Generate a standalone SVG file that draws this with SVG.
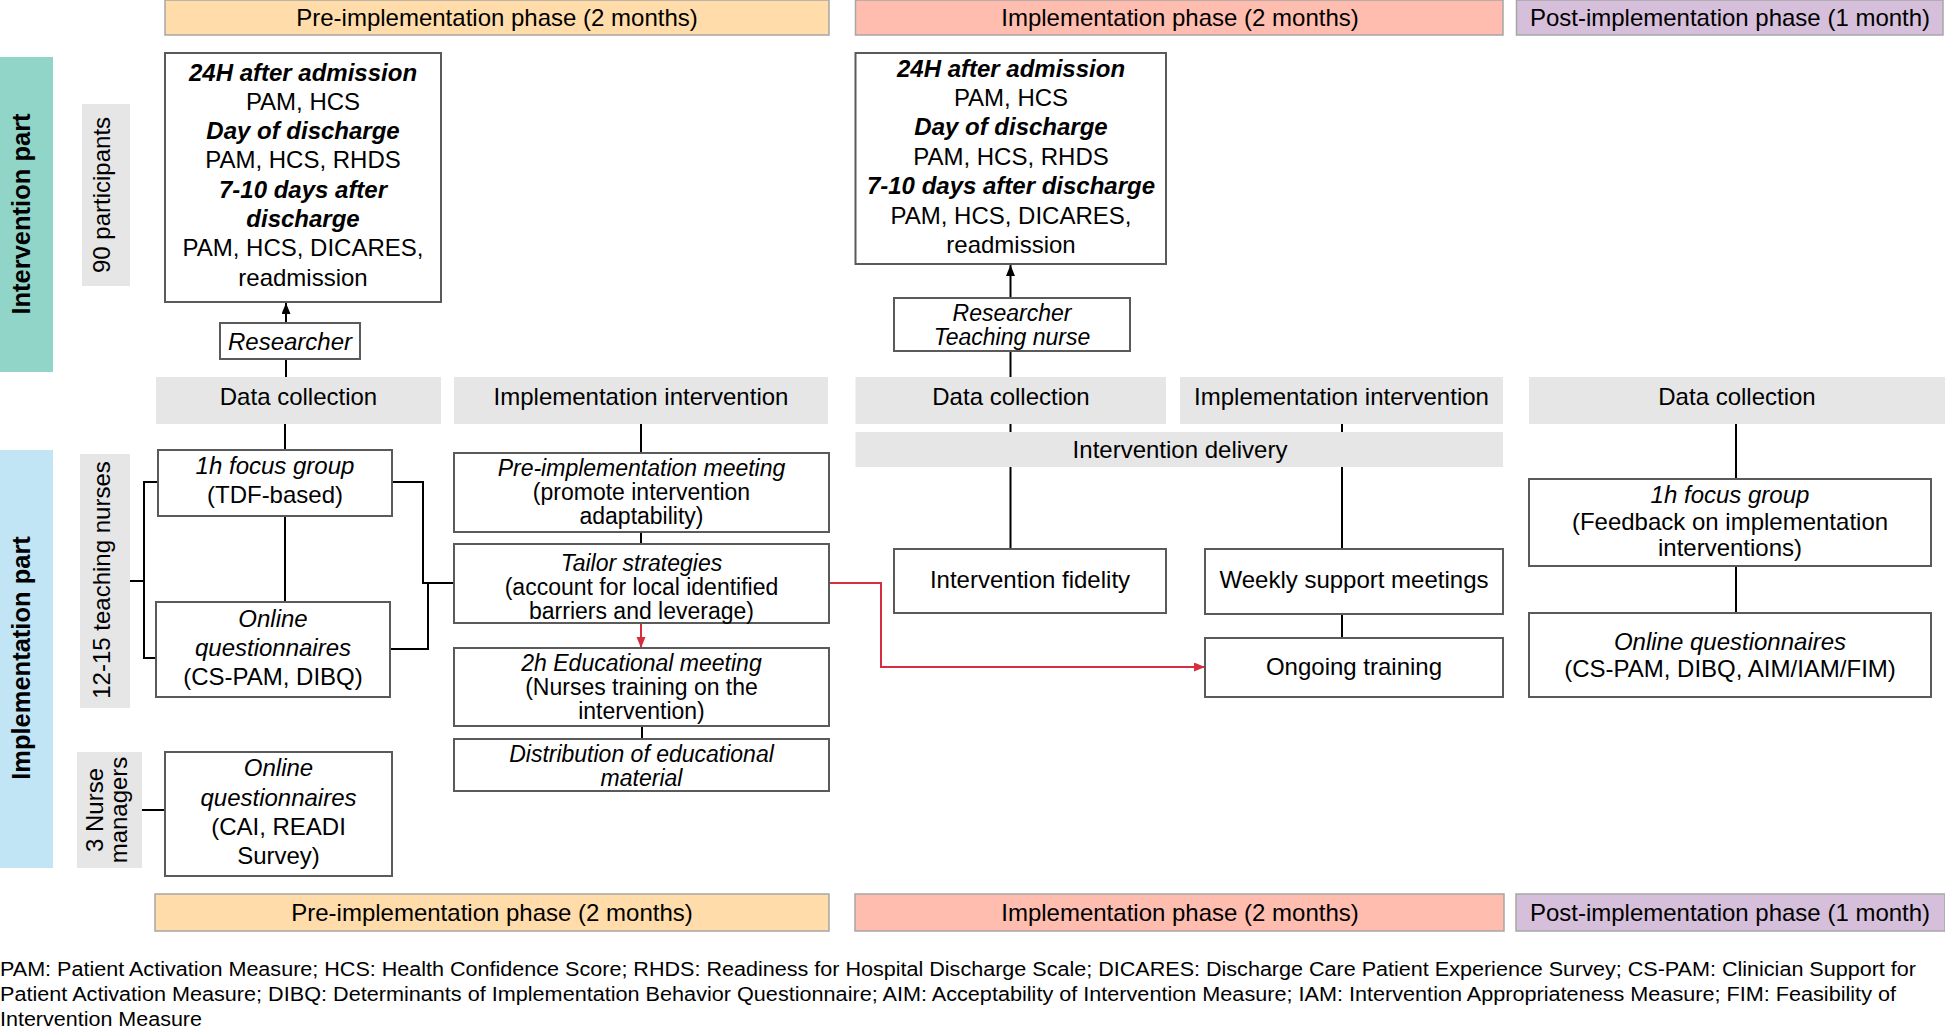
<svg xmlns="http://www.w3.org/2000/svg" width="1945" height="1029" viewBox="0 0 1945 1029">
<defs>
<style>
text{font-family:"Liberation Sans",Arial,sans-serif;font-size:24px;fill:#000;text-anchor:middle}
.it{font-style:italic}
.bi{font-style:italic;font-weight:bold}
.side{font-weight:bold;font-size:25.5px}
.t3{font-size:23px}
.box{fill:#fff;stroke:#5a5a5a;stroke-width:2}
.gray{fill:#e6e6e6}
.hdr{stroke:#a6a6a6;stroke-width:1.5}
.pre{fill:#ffdcaa}
.imp{fill:#ffbdb0}
.post{fill:#d6bfda}
.ln{fill:none;stroke:#000;stroke-width:2}
.red{fill:none;stroke:#d62e3e;stroke-width:2}
.note{font-size:20px;text-anchor:start}
</style>
<marker id="ab" markerUnits="userSpaceOnUse" markerWidth="12" markerHeight="10" refX="11" refY="4.5" orient="auto"><path d="M0,0 L11,4.5 L0,9 z" fill="#000"/></marker>
<marker id="ar" markerUnits="userSpaceOnUse" markerWidth="12" markerHeight="10" refX="11" refY="4.5" orient="auto"><path d="M0,0 L11,4.5 L0,9 z" fill="#d62e3e"/></marker>
</defs>
<rect width="1945" height="1029" fill="#fff"/>

<g id="phase-headers-top">
<rect class="hdr pre" x="165" y="0" width="664" height="35"/>
<text x="497" y="25.5">Pre-implementation phase (2 months)</text>
<rect class="hdr imp" x="855.5" y="0" width="647.5" height="35"/>
<text x="1180" y="25.5">Implementation phase (2 months)</text>
<rect class="hdr post" x="1516.5" y="0" width="426.5" height="35"/>
<text x="1730" y="25.5">Post-implementation phase (1 month)</text>
</g>

<g id="side-labels">
<rect x="0" y="57" width="53" height="315" fill="#90d5c8"/>
<text class="side" transform="translate(21,214) rotate(-90)" x="0" y="9">Intervention part</text>
<rect x="0" y="450" width="53" height="418" fill="#c2e5f5"/>
<text class="side" transform="translate(21,658) rotate(-90)" x="0" y="9">Implementation part</text>
<rect class="gray" x="82" y="104" width="48" height="182"/>
<text transform="translate(101,195) rotate(-90)" x="0" y="8.5">90 participants</text>
<rect class="gray" x="80" y="454" width="50" height="254"/>
<text transform="translate(101,580) rotate(-90)" x="0" y="8.5">12-15 teaching nurses</text>
<rect class="gray" x="77" y="752" width="65" height="116"/>
<text transform="translate(94,810) rotate(-90)" x="0" y="8.5">3 Nurse</text>
<text transform="translate(118,810) rotate(-90)" x="0" y="8.5">managers</text>
</g>

<g id="section-labels">
<rect class="gray" x="156" y="377" width="285" height="47"/>
<text x="298.5" y="404.5">Data collection</text>
<rect class="gray" x="454" y="377" width="374" height="47"/>
<text x="641" y="404.5">Implementation intervention</text>
<rect class="gray" x="855.5" y="377" width="310.5" height="47"/>
<text x="1011" y="404.5">Data collection</text>
<rect class="gray" x="1180" y="377" width="323" height="47"/>
<text x="1341.5" y="404.5">Implementation intervention</text>
<rect class="gray" x="1529" y="377" width="416" height="47"/>
<text x="1737" y="404.5">Data collection</text>
<rect class="gray" x="855.5" y="432" width="647.5" height="35"/>
<text x="1180" y="457.5">Intervention delivery</text>
</g>

<g id="connectors">
<path class="ln" d="M286,377 V359"/>
<path class="ln" d="M286,323 V303" marker-end="url(#ab)"/>
<path class="ln" d="M285,424 V450 M285,516 V602"/>
<path class="ln" d="M130,581 H144 M158,482 H144 V658 H156"/>
<path class="ln" d="M392,482 H423 V583 H454 M390,649 H428 V583"/>
<path class="ln" d="M142,810 H165"/>
<path class="ln" d="M641,424 V453 M641,532 V544 M642,726 V739"/>
<path class="red" d="M641,623 V648" marker-end="url(#ar)"/>
<path class="red" d="M829,583 H881 V667 H1205" marker-end="url(#ar)"/>
<path class="ln" d="M1010.5,377 V351"/>
<path class="ln" d="M1010.5,298 V265" marker-end="url(#ab)"/>
<path class="ln" d="M1010.5,424 V432 M1010.5,467 V549"/>
<path class="ln" d="M1342,424 V432 M1342,467 V549 M1342,614 V638"/>
<path class="ln" d="M1736,424 V479 M1736,566 V613"/>
</g>

<g id="pre-data-box">
<rect class="box" x="165" y="53" width="276" height="249"/>
<text class="bi" x="303" y="80.5">24H after admission</text>
<text x="303" y="109.8">PAM, HCS</text>
<text class="bi" x="303" y="139.1">Day of discharge</text>
<text x="303" y="168.4">PAM, HCS, RHDS</text>
<text class="bi" x="303" y="197.7">7-10 days after</text>
<text class="bi" x="303" y="227">discharge</text>
<text x="303" y="256.3">PAM, HCS, DICARES,</text>
<text x="303" y="285.6">readmission</text>
</g>

<g id="pre-researcher">
<rect class="box" x="220" y="323" width="140" height="36"/>
<text class="it" x="290" y="349.5">Researcher</text>
</g>

<g id="pre-focus-group">
<rect class="box" x="158" y="450" width="234" height="66"/>
<text class="it" x="275" y="473.5">1h focus group</text>
<text x="275" y="502.5">(TDF-based)</text>
</g>

<g id="pre-online-nurses">
<rect class="box" x="156" y="602" width="234" height="95"/>
<text class="it" x="273" y="626.5">Online</text>
<text class="it" x="273" y="655.5">questionnaires</text>
<text x="273" y="684.5">(CS-PAM, DIBQ)</text>
</g>

<g id="pre-online-managers">
<rect class="box" x="165" y="752" width="227" height="124"/>
<text class="it" x="278.5" y="775.5">Online</text>
<text class="it" x="278.5" y="805.5">questionnaires</text>
<text x="278.5" y="834.5">(CAI, READI</text>
<text x="278.5" y="863.5">Survey)</text>
</g>

<g id="pre-impl-meeting">
<rect class="box" x="454" y="453" width="375" height="79"/>
<text class="it t3" x="641.5" y="476">Pre-implementation meeting</text>
<text class="t3" x="641.5" y="500">(promote intervention</text>
<text class="t3" x="641.5" y="524">adaptability)</text>
</g>

<g id="tailor-strategies">
<rect class="box" x="454" y="544" width="375" height="79"/>
<text class="it t3" x="641.5" y="571">Tailor strategies</text>
<text class="t3" x="641.5" y="595">(account for local identified</text>
<text class="t3" x="641.5" y="619">barriers and leverage)</text>
</g>

<g id="educational-meeting">
<rect class="box" x="454" y="648" width="375" height="78"/>
<text class="it t3" x="641.5" y="671">2h Educational meeting</text>
<text class="t3" x="641.5" y="695">(Nurses training on the</text>
<text class="t3" x="641.5" y="719">intervention)</text>
</g>

<g id="distribution">
<rect class="box" x="454" y="739" width="375" height="52"/>
<text class="it t3" x="641.5" y="762">Distribution of educational</text>
<text class="it t3" x="641.5" y="786">material</text>
</g>

<g id="impl-data-box">
<rect class="box" x="855.5" y="53" width="310.5" height="211"/>
<text class="bi" x="1011" y="76.5">24H after admission</text>
<text x="1011" y="105.9">PAM, HCS</text>
<text class="bi" x="1011" y="135.3">Day of discharge</text>
<text x="1011" y="164.7">PAM, HCS, RHDS</text>
<text class="bi" x="1011" y="194.1">7-10 days after discharge</text>
<text x="1011" y="223.5">PAM, HCS, DICARES,</text>
<text x="1011" y="252.9">readmission</text>
</g>

<g id="impl-researcher-nurse">
<rect class="box" x="894" y="298" width="236" height="53"/>
<text class="it t3" x="1012" y="321">Researcher</text>
<text class="it t3" x="1012" y="345">Teaching nurse</text>
</g>

<g id="intervention-fidelity">
<rect class="box" x="894" y="549" width="272" height="64"/>
<text x="1030" y="587.5">Intervention fidelity</text>
</g>

<g id="weekly-support">
<rect class="box" x="1205" y="549" width="298" height="65"/>
<text x="1354" y="587.5">Weekly support meetings</text>
</g>

<g id="ongoing-training">
<rect class="box" x="1205" y="638" width="298" height="59"/>
<text x="1354" y="674.5">Ongoing training</text>
</g>

<g id="post-focus-group">
<rect class="box" x="1529" y="479" width="402" height="87"/>
<text class="it" x="1730" y="502.5">1h focus group</text>
<text x="1730" y="529.5">(Feedback on implementation</text>
<text x="1730" y="555.5">interventions)</text>
</g>

<g id="post-online">
<rect class="box" x="1529" y="613" width="402" height="84"/>
<text class="it" x="1730" y="649.5">Online questionnaires</text>
<text x="1730" y="676.5">(CS-PAM, DIBQ, AIM/IAM/FIM)</text>
</g>

<g id="phase-headers-bottom">
<rect class="hdr pre" x="155" y="894" width="674" height="37"/>
<text x="492" y="920.5">Pre-implementation phase (2 months)</text>
<rect class="hdr imp" x="855" y="894" width="649" height="37"/>
<text x="1180" y="920.5">Implementation phase (2 months)</text>
<rect class="hdr post" x="1516" y="894" width="429" height="37"/>
<text x="1730" y="920.5">Post-implementation phase (1 month)</text>
</g>

<g id="footnote">
<text class="note" x="0" y="976" textLength="1916" lengthAdjust="spacingAndGlyphs">PAM: Patient Activation Measure; HCS: Health Confidence Score; RHDS: Readiness for Hospital Discharge Scale; DICARES: Discharge Care Patient Experience Survey; CS-PAM: Clinician Support for</text>
<text class="note" x="0" y="1001" textLength="1896" lengthAdjust="spacingAndGlyphs">Patient Activation Measure; DIBQ: Determinants of Implementation Behavior Questionnaire; AIM: Acceptability of Intervention Measure; IAM: Intervention Appropriateness Measure; FIM: Feasibility of</text>
<text class="note" x="0" y="1026" textLength="202" lengthAdjust="spacingAndGlyphs">Intervention Measure</text>
</g>
</svg>
